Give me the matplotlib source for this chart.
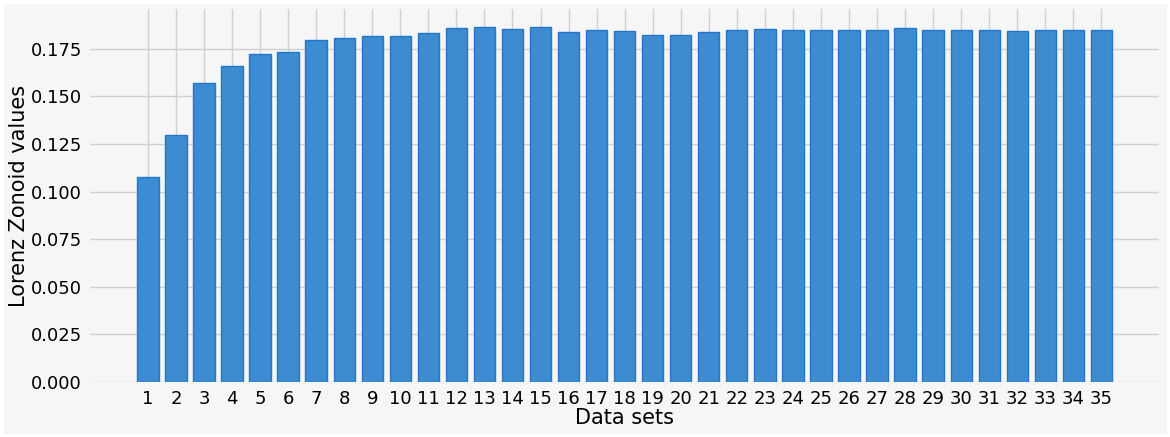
import matplotlib
matplotlib.use("Agg")
import matplotlib.pyplot as plt
import numpy as np

# data
data_sets = list(range(1, 36))
lorenz_values = [
    0.1077, 0.1295, 0.1570, 0.1658, 0.1724, 0.1733, 0.1794, 0.1806, 0.1818, 0.1818,
    0.1835, 0.1860, 0.1865, 0.1856, 0.1865, 0.1839, 0.1851, 0.1844, 0.1823, 0.1820,
    0.1839, 0.1851, 0.1856, 0.1851, 0.1846, 0.1846, 0.1846, 0.1858, 0.1851, 0.1846,
    0.1851, 0.1842, 0.1846, 0.1846, 0.1846,
]
y_ticks = [0.0, 0.025, 0.05, 0.075, 0.1, 0.125, 0.15, 0.175]

bg = "#f6f6f6"
fig = plt.figure(figsize=(11.7, 4.37), dpi=100, facecolor=bg)
fig.patch.set_edgecolor("white")
fig.patch.set_linewidth(5)
ax = fig.add_axes([0.077, 0.126, 0.914, 0.853])
ax.set_facecolor(bg)

ax.bar(data_sets, lorenz_values, width=0.76, color="#3d8bd0",
       edgecolor="#2277cc", linewidth=1.0, zorder=3)

ax.set_xlim(-1.06, 37.07)
ax.set_ylim(0, 0.1958)
ax.set_xticks(data_sets)
ax.set_xticklabels([str(d) for d in data_sets])
ax.set_yticks(y_ticks)
ax.set_yticklabels([f"{t:.3f}" for t in y_ticks])
ax.tick_params(axis="both", length=0, labelsize=13, pad=6)

# light grid like the reference
ax.grid(True, color="#d0d0d0", linewidth=1.0, zorder=0)
for s in ax.spines.values():
    s.set_visible(False)

ax.set_xlabel("Data sets", fontsize=15, labelpad=0)
ax.set_ylabel("Lorenz Zonoid values", fontsize=15, labelpad=1)

fig.savefig("out.png", dpi=100, facecolor=bg, edgecolor="white")
